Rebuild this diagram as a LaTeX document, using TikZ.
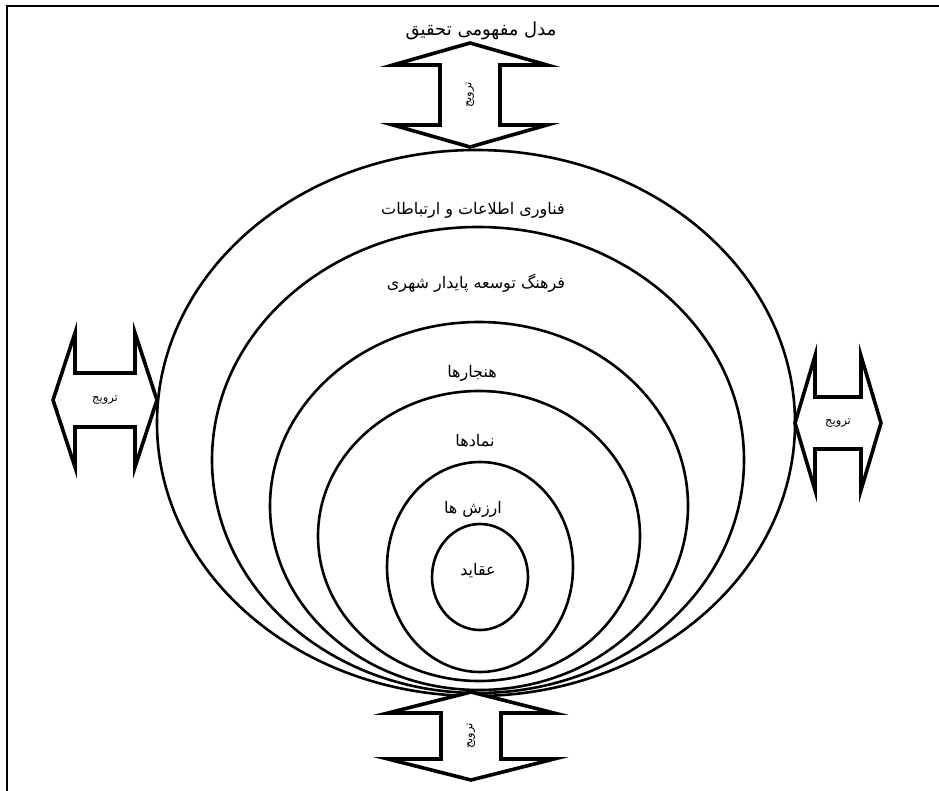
\documentclass[tikz,border=0pt]{standalone}
\usepackage{fontspec}
\newfontfamily\arabicfont[Script=Arabic]{DejaVu Sans}
\TeXXeTstate=1
\usetikzlibrary{shapes.geometric}
\tikzset{
  ring/.style={draw, ellipse, line width=2.6pt, inner sep=0pt},
  layertext/.style={font=\arabicfont\fontsize{16}{18}\selectfont, inner sep=1pt},
  twoway/.style={draw, fill=white, line width=3.6pt, line join=miter},
  arrowtext/.style={font=\arabicfont\fontsize{11.5}{13}\selectfont, inner sep=1pt},
}

\begin{document}
\begin{tikzpicture}[x=1pt, y=-1pt]
  \useasboundingbox (0,0) rectangle (939,791);
  % frame, only left and top edges fall inside the page
  \coordinate (fbl) at (7,791);
  \coordinate (ftl) at (7,6);
  \coordinate (ftr) at (939,6);
  \draw[line width=2pt] (fbl) -- (ftl) -- (ftr);

  % nested layers
  \node[ring, minimum width=638pt, minimum height=546pt] (ict)     at (476,423) {};
  \node[ring, minimum width=532pt, minimum height=466pt] (culture) at (478,460) {};
  \node[ring, minimum width=418pt, minimum height=368pt] (norms)   at (479,506) {};
  \node[ring, minimum width=322pt, minimum height=290pt] (symbols) at (479,536) {};
  \node[ring, minimum width=186pt, minimum height=210pt] (values)  at (480,567) {};
  \node[ring, minimum width=96pt,  minimum height=106pt] (beliefs) at (480,577) {};

  \node[layertext, font=\arabicfont\fontsize{18}{20}\selectfont] (title) at (481,31) {\beginR مدل مفهومی تحقیق\endR};
  \node[layertext] (ictlbl)   at (473,210) {\beginR فناوری اطلاعات و ارتباطات\endR};
  \node[layertext] (cultlbl)  at (476,283) {\beginR فرهنگ توسعه پایدار شهری\endR};
  \node[layertext] (normlbl)  at (472,373) {\beginR هنجارها\endR};
  \node[layertext] (symblbl)  at (475,441) {\beginR نمادها\endR};
  \node[layertext] (vallbl)   at (473,509) {\beginR ارزش ها\endR};
  \node[layertext] (belflbl)  at (478,571) {\beginR عقاید\endR};

  % double arrows: centre, angle, half length, half shaft, head half width, shaft half width
  \foreach \cx/\cy/\ang/\hl/\sl/\hw/\sw/\nm/\rot in {
      470/95/90/52/30/77/30/pushtop/90,
      471/736/90/44/23/83/30/pushbottom/90,
      105/400/0/52/30/67/27/pushleft/0,
      838/423/0/43/23/67/26/pushright/0} {
    \draw[twoway, shift={(\cx,\cy)}, rotate=\ang]
      (-\hl,0) -- (-\sl,-\hw) -- (-\sl,-\sw) -- (\sl,-\sw) -- (\sl,-\hw)
      -- (\hl,0) -- (\sl,\hw) -- (\sl,\sw) -- (-\sl,\sw) -- (-\sl,\hw) -- cycle;
    \node[arrowtext, rotate=\rot] (\nm) at (\cx,\cy) {\beginR ترویج\endR};
  }
\end{tikzpicture}
\end{document}
